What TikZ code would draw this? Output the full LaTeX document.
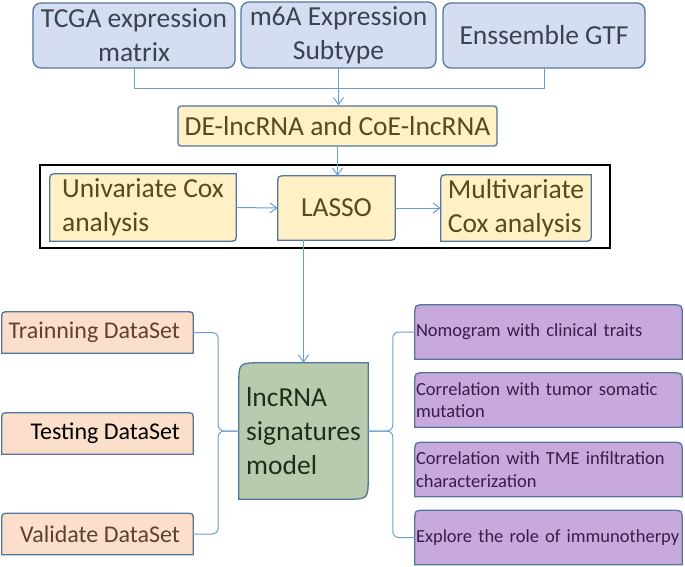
\documentclass[tikz,border=0pt]{standalone}
\usepackage{fontspec}
\setmainfont{Carlito}
\usetikzlibrary{arrows.meta}
\usetikzlibrary{backgrounds}

\definecolor{boxline}{HTML}{52769F}
\definecolor{linkblue}{HTML}{6A9FD3}
\definecolor{bluefill}{HTML}{D5DEF0}
\definecolor{bluetext}{HTML}{3B4250}
\definecolor{yellowfill}{HTML}{FFF0C5}
\definecolor{yellowtext}{HTML}{574A1C}
\definecolor{peachfill}{HTML}{FBDFCB}
\definecolor{peachtext}{HTML}{5B4233}
\definecolor{greenfill}{HTML}{B9CBAD}
\definecolor{greentext}{HTML}{1E2F19}
\definecolor{purplefill}{HTML}{C8A9DE}
\definecolor{purpletext}{HTML}{3A1B4B}

% top-left and bottom-right corners rounded
\newcommand{\diagshape}[3]{%
  \filldraw[#3] (#1.south west) -- ([yshift=-#2]#1.north west)
    .. controls (#1.north west) .. ([xshift=#2]#1.north west)
    -- (#1.north east) -- ([yshift=#2]#1.south east)
    .. controls (#1.south east) .. ([xshift=-#2]#1.south east) -- cycle;}
% only the top corners rounded
\newcommand{\topshape}[3]{%
  \filldraw[#3] (#1.south west) -- ([yshift=-#2]#1.north west)
    .. controls (#1.north west) .. ([xshift=#2]#1.north west)
    -- ([xshift=-#2]#1.north east)
    .. controls (#1.north east) .. ([yshift=-#2]#1.north east)
    -- (#1.south east) -- cycle;}
\newcommand{\dstext}[1]{\makebox[178pt][r]{#1}\kern13pt}
\newcommand{\nohyph}{\hyphenpenalty10000\relax}

\begin{document}
\begin{tikzpicture}[x=1pt, y=-1pt,
  big/.style={font=\fontsize{27.5}{34}\selectfont, inner sep=0pt},
  source/.style={big, draw=boxline, line width=1.3pt, fill=bluefill,
    rounded corners=8pt, text=bluetext, align=center},
  filter/.style={big, draw=boxline, line width=1.3pt, fill=yellowfill,
    rounded corners=3pt, text=yellowtext},
  cox/.style={big, align=left, text=yellowtext},
  dataset/.style={font=\fontsize{24}{29}\selectfont, inner sep=0pt,
    minimum width=191pt, minimum height=41pt, text=peachtext},
  signature/.style={big, align=left, text=greentext},
  outcome/.style={font=\fontsize{18.5}{22.5}\selectfont\nohyph,
    align=left, text=purpletext, text width=265pt, inner xsep=1pt,
    inner ysep=0pt, minimum height=54pt},
  yellowbox/.style={draw=boxline, line width=1.3pt, fill=yellowfill},
  peachbox/.style={draw=boxline, line width=1.3pt, fill=peachfill},
  greenbox/.style={draw=boxline, line width=1.3pt, fill=greenfill},
  purplebox/.style={draw=boxline, line width=1.3pt, fill=purplefill},
  link/.style={draw=linkblue, line width=1pt},
  arrow/.style={link, -{Straight Barb[length=7pt, width=10pt]}}]
  \useasboundingbox (0, 0) rectangle (685, 566);

  \node[source, minimum width=202pt, minimum height=65pt] (tcga) at (134, 35.5)
    {TCGA expression\\matrix};
  \node[source, minimum width=195pt, minimum height=66pt] (m6a) at (338.5, 35)
    {m6A Expression\\Subtype};
  \node[source, minimum width=202pt, minimum height=65pt] (ens) at (544, 35.5)
    {Enssemble GTF};

  \node[filter, minimum width=319pt, minimum height=40pt] (de) at (337.5, 126)
    {DE-lncRNA and CoE-lncRNA};

  \draw[line width=2.5pt] (40, 165) rectangle (610, 248);

  \node[cox, minimum width=186pt, minimum height=67pt] (uni) at (143, 207.5)
    {Univariate Cox\\analysis};
  \node[cox, minimum width=117pt, minimum height=64pt] (lasso) at (336.5, 208)
    {LASSO};
  \node[cox, minimum width=150pt, minimum height=66pt] (multi) at (516, 208)
    {Multivariate\\Cox analysis};

  \node[dataset] (train) at (97.5, 332.5) {\dstext{Trainning DataSet}};
  \node[dataset, text=black] (test) at (97.5, 433.5) {\dstext{Testing DataSet}};
  \node[dataset] (valid) at (97.5, 534) {\dstext{Validate DataSet}};

  \node[signature, minimum width=129pt, minimum height=136pt] (model) at (303.5, 431)
    {lncRNA\\signatures\\model};

  \node[outcome] (nomo) at (548.5, 332) {Nomogram with clinical traits};
  \node[outcome] (tumor) at (548.5, 400)
    {Correlation with tumor somatic\\mutation};
  \node[outcome] (tme) at (548.5, 469.5)
    {Correlation with TME infiltration\\characterization};
  \node[outcome] (immune) at (548.5, 537.5) {Explore the role of immunotherpy};

  \begin{scope}[on background layer]
    \diagshape{uni}{8pt}{yellowbox}
    \diagshape{lasso}{8pt}{yellowbox}
    \diagshape{multi}{8pt}{yellowbox}
    \diagshape{model}{22pt}{greenbox}
    \foreach \n in {train, test, valid}
      \topshape{\n}{7pt}{peachbox};
    \foreach \n in {nomo, tumor, tme, immune}
      \topshape{\n}{10pt}{purplebox};
  \end{scope}

  \draw[link] (tcga.south) -- ++(0, 20) -| (ens.south);
  \draw[arrow] (m6a.south) -- (m6a.south |- de.north);
  \draw[arrow] (de.south) -- (de.south |- lasso.north);
  \draw[arrow] (uni.east) -- (lasso.west);
  \draw[arrow] (lasso.east) -- (multi.west);
  \draw[arrow] (lasso.south -| model.north) -- (model.north);

  \draw[link, rounded corners=6pt] (train.east) -- ++(25, 0) |- (model.west);
  \draw[link, rounded corners=6pt] (valid.east) -- ++(25, 0) |- (model.west);
  \draw[link, rounded corners=6pt] (nomo.west) -- ++(-22, 0) |- (model.east);
  \draw[link, rounded corners=6pt] (immune.west) -- ++(-22, 0) |- (model.east);
\end{tikzpicture}
\end{document}
